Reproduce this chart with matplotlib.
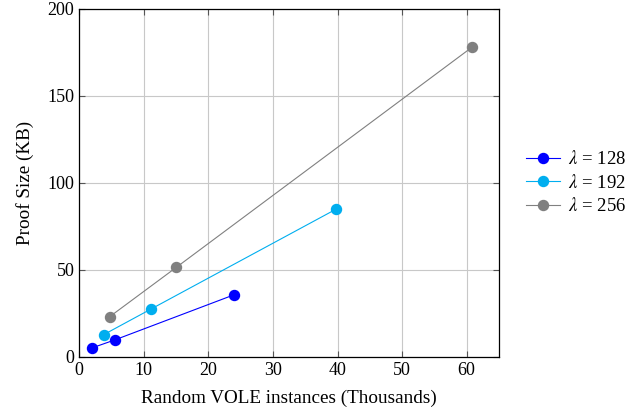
import matplotlib
matplotlib.use("Agg")
import matplotlib.pyplot as plt

plt.rcParams['font.family'] = ['Liberation Serif', 'DejaVu Serif']
plt.rcParams['mathtext.fontset'] = 'stix'

labels = [r"$\lambda$ = 128", r"$\lambda$ = 192", r"$\lambda$ = 256"]
x128 = [1.96, 5.5, 23.9]
y128 = [5.2, 9.8, 35.6]
x192 = [3.77, 11.05, 39.8]
y192 = [12.8, 27.4, 84.9]
x256 = [4.7, 15.05, 60.9]
y256 = [23.1, 51.5, 178.0]
colors = ['#0000ff', '#00aeef', '#808080']
xticks = [0, 10, 20, 30, 40, 50, 60]
yticks = [0, 50, 100, 150, 200]

fig = plt.figure(figsize=(6.44, 4.13), dpi=100)
ax = fig.add_axes([0.1231, 0.1356, 0.6517, 0.8438])

for xs, ys, c, lab in zip([x128, x192, x256], [y128, y192, y256], colors, labels):
    ax.plot(xs, ys, '-o', color=c, lw=0.8, ms=7.2, label=lab)

ax.set_xlim(0, 65)
ax.set_ylim(0, 200)
ax.set_xticks(xticks)
ax.set_yticks(yticks)
ax.grid(True, color='#c8c8c8', lw=0.8)
ax.set_axisbelow(True)
ax.tick_params(direction='in', top=True, right=True, length=4, color='#555555', labelsize=13)
for s in ax.spines.values():
    s.set_linewidth(0.9)
    s.set_color('black')
ax.set_xlabel("Random VOLE instances (Thousands)", fontsize=13.8, labelpad=8)
ax.set_ylabel("Proof Size (KB)", fontsize=13.8, labelpad=10)

ax.legend(loc='center left', bbox_to_anchor=(1.025, 0.5), frameon=False,
          fontsize=13.5, handlelength=1.8, handletextpad=0.4, labelspacing=0.3)

fig.savefig("out.png", dpi=100)
